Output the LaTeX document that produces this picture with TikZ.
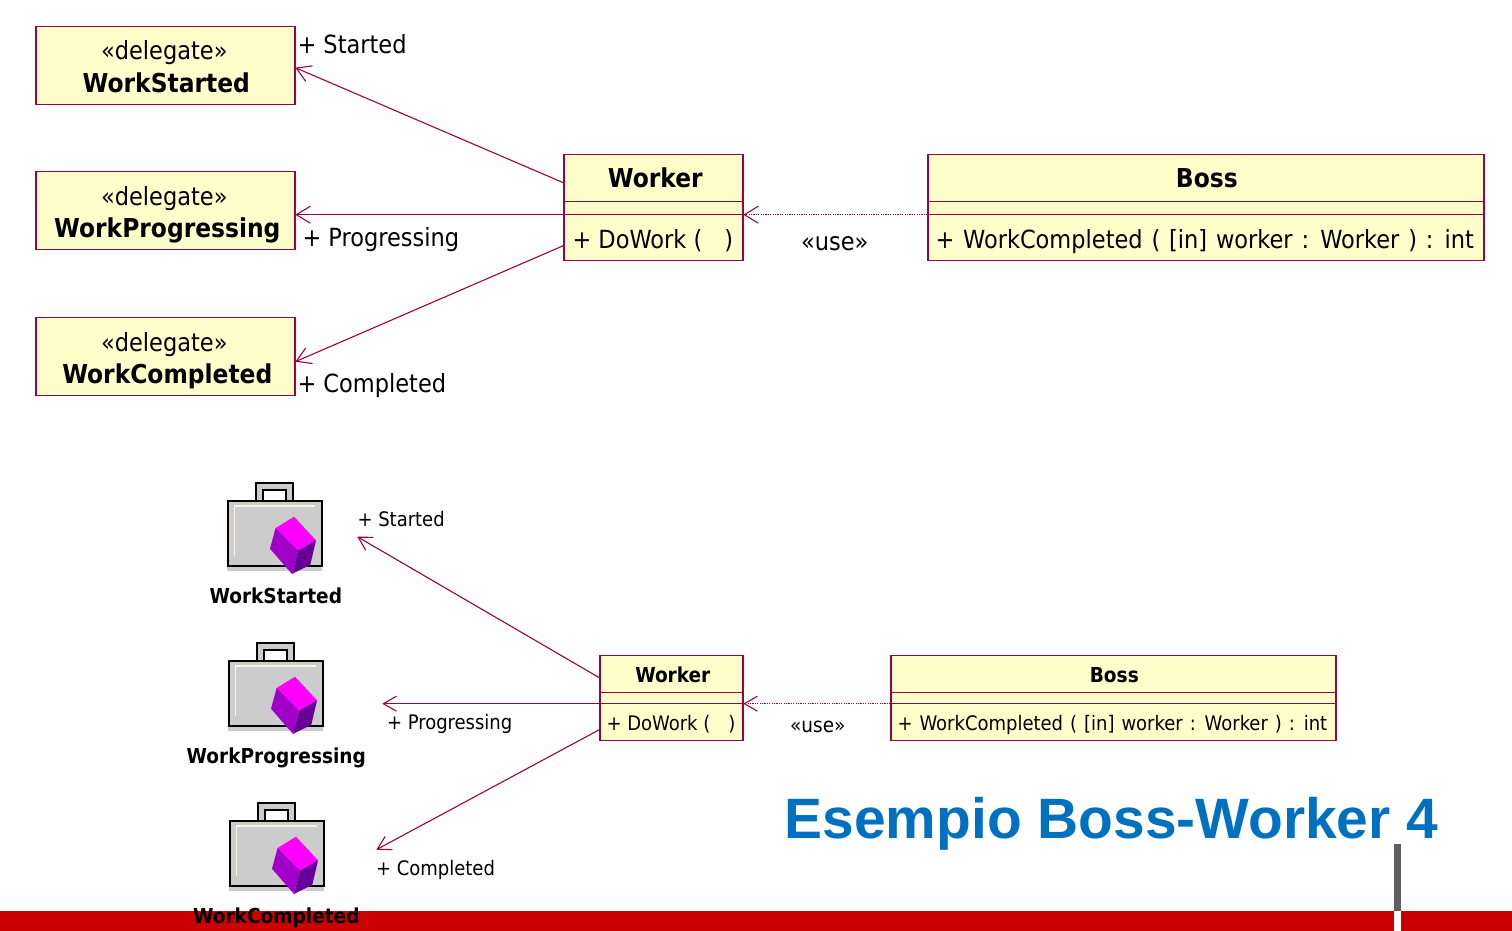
\documentclass[tikz,border=0pt]{standalone}
\usepackage{fontspec}
\setmainfont{DejaVu Sans Condensed}[BoldFont={DejaVu Sans Condensed Bold}]
\newfontfamily\titlefont{Liberation Sans}[BoldFont={Liberation Sans Bold}]
\usetikzlibrary{arrows.meta}
\definecolor{umlline}{HTML}{A00040}
\definecolor{umlfill}{HTML}{FFFFCC}
\definecolor{barred}{HTML}{CC0000}
\definecolor{bargrey}{HTML}{5F5F5F}
\definecolor{titleblue}{HTML}{0070C0}
\definecolor{cubetop}{RGB}{255,0,255}
\definecolor{cubeleft}{RGB}{160,0,200}
\definecolor{cuberight}{RGB}{102,0,153}
\definecolor{casegrey}{RGB}{204,204,204}
\definecolor{casecream}{RGB}{250,245,225}
\tikzset{
  x=1pt,y=-1pt,
  umlbox/.style={draw=umlline,fill=umlfill,line width=1.2pt,minimum width=#1,inner sep=0pt,anchor=north west},
  assoc/.style={draw=umlline,line width=1.1pt,-{Straight Barb[length=14pt,width=17pt,line width=1.1pt]}},
  assocs/.style={draw=umlline,line width=1.1pt,-{Straight Barb[length=13pt,width=15pt,line width=1.1pt]}},
  dep/.style={assoc,dash pattern=on 1.2pt off 1.2pt},
  deps/.style={assocs,dash pattern=on 1.2pt off 1.2pt},
  sepline/.style={draw=umlline,line width=1.1pt},
  big/.style={font=\fontsize{25}{28}\selectfont,anchor=base,inner sep=0pt},
  bigb/.style={font=\fontsize{26}{28}\selectfont\bfseries,anchor=base,inner sep=0pt},
  bigl/.style={big,anchor=base west},
  small/.style={font=\fontsize{20}{24}\selectfont,anchor=base west,inner sep=0pt},
  smallb/.style={font=\fontsize{20.6}{24}\selectfont\bfseries,anchor=base,inner sep=0pt},
}
\newcommand{\umlrect}[5]{% name, x0, y0, x1, y1
  \node[umlbox=#4-#2,minimum height=#5-#3] (#1) at (#2,#3) {};
}
\newcommand{\briefcase}[2]{%
  \begin{scope}[shift={(#1,#2)}]
    \fill[casegrey] (228,566) rectangle (323,571);
    \fill[casegrey] (256,482) rectangle (295,501);
    \fill[white] (264,489) rectangle (287,501);
    \draw[line width=2.2pt] (257,501) -- (257,483.5) -- (294,483.5) -- (294,501);
    \draw[line width=2.2pt] (264,501) -- (264,490) -- (287,490) -- (287,501);
    \draw[line width=2.2pt,fill=casegrey] (229,501) rectangle (322.5,566);
    \draw[line width=1.6pt,color=casecream] (235,556) -- (235,506.5) -- (316,506.5);
    \fill[cubetop] (294.7,517) -- (316.7,540.7) -- (298.7,551) -- (276.3,528.3) -- cycle;
    \fill[cubeleft] (276.3,528.3) -- (298.7,551) -- (292.7,574.3) -- (270.7,549) -- cycle;
    \fill[cuberight] (316.7,540.7) -- (298.7,551) -- (292.7,574.3) -- (311,565) -- cycle;
  \end{scope}
}
\begin{document}
\begin{tikzpicture}
\useasboundingbox (0.7,0.3) rectangle (1512.7,931.3);
% bottom bar
\fill[barred] (0,911.3) rectangle (1395,932);
\fill[barred] (1402,911.3) rectangle (1513,932);
\fill[bargrey] (1395,844) rectangle (1402,911.3);

% top delegates
\umlrect{ds}{36}{26}{295}{104}
\umlrect{dp}{36}{171}{295}{249}
\umlrect{dc}{36}{317}{295}{395}
\node[big] (dsa) at (165,60.3) {«delegate»};
\node[bigb] (dsb) at (167,92.8) {WorkStarted};
\node[big] (dpa) at (165,205.3) {«delegate»};
\node[bigb] (dpb) at (168,237.8) {WorkProgressing};
\node[big] (dca) at (165,351.3) {«delegate»};
\node[bigb] (dcb) at (168,383.8) {WorkCompleted};

% top worker
\umlrect{w}{564}{154}{743}{260}
\draw[sepline] (564,202) -- (743,202) (564,215) -- (743,215);
\node[bigb] (wn) at (656,187.8) {Worker};
\node[bigl] (wm) at (573,248.8) {+ DoWork (\hspace{22pt})};
% top boss
\umlrect{b}{928}{154}{1484}{260}
\draw[sepline] (928,202) -- (1484,202) (928,215) -- (1484,215);
\node[bigb] (bn) at (1207.5,187.8) {Boss};
\node[bigl] (bm) at (936,248.8) {\spaceskip=1.24\fontdimen2\font + WorkCompleted ( [in] worker : Worker ) : int};

\node[bigl] (ls) at (298,54.3) {+ Started};
\node[bigl] (lp) at (303,246.3) {+ Progressing};
\node[bigl] (lc) at (298,392.8) {+ Completed};
\node[big] (lu) at (835.5,250.3) {«use»};

\coordinate (a1) at (564,183); \coordinate (a1e) at (296,68);
\coordinate (a2) at (564,215); \coordinate (a2e) at (296,215);
\coordinate (a3) at (564,246); \coordinate (a3e) at (296,362);
\coordinate (u1) at (928,215); \coordinate (u1e) at (744,215);
\draw[assoc] (a1) -- (a1e);
\draw[assoc] (a2) -- (a2e);
\draw[assoc] (a3) -- (a3e);
\draw[dep] (u1) -- (u1e);

% lower briefcases
\briefcase{0}{0}
\briefcase{1}{160}
\briefcase{2}{320}
\node[smallb] (ns) at (276.5,603.3) {WorkStarted};
\node[smallb] (np) at (277,763.3) {WorkProgressing};
\node[smallb] (nc) at (277,923.3) {WorkCompleted};

% lower worker
\umlrect{w2}{600}{655}{743}{740}
\draw[sepline] (600,693) -- (743,693) (600,704) -- (743,704);
\node[smallb] (w2n) at (673.5,682.3) {Worker};
\node[small] (w2m) at (607,730.3) {+ DoWork (\hspace{18pt})};
% lower boss
\umlrect{b2}{891}{655}{1336}{740}
\draw[sepline] (891,693) -- (1336,693) (891,704) -- (1336,704);
\node[smallb] (b2n) at (1115,682.3) {Boss};
\node[small] (b2m) at (898,730.3) {\spaceskip=1.22\fontdimen2\font + WorkCompleted ( [in] worker : Worker ) : int};

\node[small] (l2s) at (358,526.3) {+ Started};
\node[small] (l2p) at (387.5,729.3) {+ Progressing};
\node[small] (l2c) at (376.5,875.3) {+ Completed};
\node[small,anchor=base,font=\fontsize{20.5}{24}\selectfont] (l2u) at (818.5,732.3) {«use»};

\coordinate (c1) at (600,678); \coordinate (c1e) at (358,537);
\coordinate (c2) at (600,704); \coordinate (c2e) at (383,704);
\coordinate (c3) at (600,730); \coordinate (c3e) at (377,850);
\coordinate (u2) at (891,704); \coordinate (u2e) at (744,704);
\draw[assocs] (c1) -- (c1e);
\draw[assocs] (c2) -- (c2e);
\draw[assocs] (c3) -- (c3e);
\draw[deps] (u2) -- (u2e);

% title
\node[anchor=base west,inner sep=0pt,text=titleblue,font=\titlefont\bfseries\fontsize{56.9}{62}\selectfont] (title) at (785.2,839) {Esempio Boss-Worker 4};
\end{tikzpicture}
\end{document}
